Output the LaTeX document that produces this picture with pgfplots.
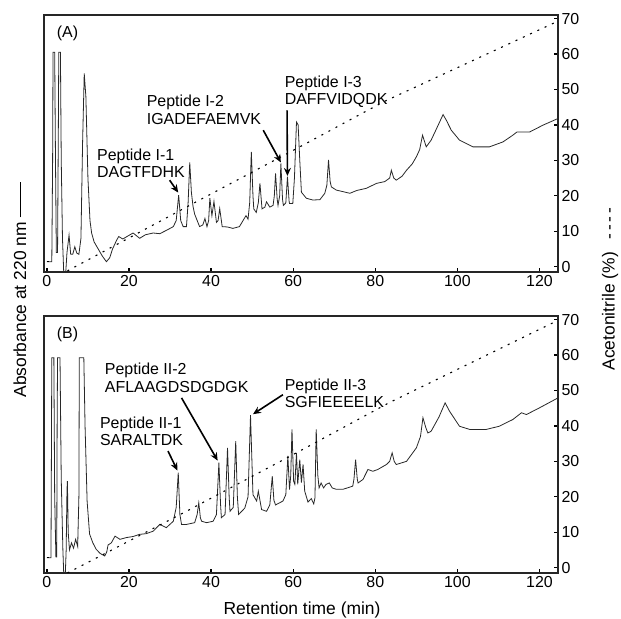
\documentclass[border=0pt]{standalone}
\usepackage{pgfplots}
\pgfplotsset{compat=1.18}
\usepackage{fontspec}
\setmainfont{Liberation Sans}
\usetikzlibrary{arrows.meta}

\definecolor{trace}{RGB}{40,40,40}

\pgfplotsset{
  chrom/.style={
    scale only axis, width=514bp, height=257bp,
    xmin=-0.7, xmax=124.5, ymin=-1.5, ymax=71,
    xtick={0,20,...,120}, ytick={0,10,...,70},
    xtick pos=bottom, ytick pos=right, yticklabel pos=right,
    tick align=inside, major tick length=4bp,
    axis line style={line width=1.6bp, black!85},
    tick style={line width=1.3bp, black},
    ticklabel style={font=\fontsize{16}{18}\selectfont},
    /pgf/number format/assume math mode=true,
  },
}
\tikzset{
  absline/.style={trace, line width=0.8bp},
  grad/.style={black, line width=1.1bp, dash pattern=on 2bp off 6bp},
  pep/.style={font=\fontsize{16}{17.5}\selectfont, align=left, anchor=north west, inner sep=0pt},
  arr/.style={-{Stealth[length=8bp,width=7bp]}, line width=1.6bp, black},
  lab/.style={font=\fontsize{17.5}{19}\selectfont},
}

\begin{document}
\begin{tikzpicture}[x=1bp,y=1bp]
\useasboundingbox (0,0) rectangle (621,619);

% panel A
\begin{axis}[chrom, at={(44bp,347bp)}, anchor=south west]
\addplot[absline] coordinates {
(0,1.4)(1.2,1.4)(1.4,30)(1.5,60.5)(1.9,60.5)(2.1,30)(2.3,4)(2.6,4)(2.8,40)(2.9,60.5)(3.3,60.5)(3.5,30)(3.8,8)(4.1,-1.5)(4.6,-1.5)(4.9,4)(5.4,8.9)(5.8,3.5)(6.3,3.5)(6.8,5.6)(7.3,3.8)(7.8,3.5)(8.3,8)(8.7,35)(9.1,54.5)(9.5,48)(10,25)(10.5,13)(10.9,9.5)(11.5,7)(12.5,5)(13.5,3)(14.5,1.4)(15.3,2.5)(16,5)(17,7.5)(17.5,8.5)(18.5,7.8)(19.5,8.5)(21,9.5)(22.6,8)(24,9)(25.9,9.5)(27.5,9.3)(29.2,10.3)(30.8,11.3)(31.5,13)(32.1,20.2)(32.6,13)(33.2,11.3)(34,11.3)(34.4,18)(34.8,29.4)(35.2,21)(35.6,17)(36,14.8)(37.2,11.3)(38,11.8)(38.5,13.6)(39,11.3)(39.4,13)(39.7,19.3)(40.2,14.4)(40.7,18.4)(41.3,12.5)(41.7,13)(42.1,16.4)(42.7,11.3)(44,11.2)(45.3,10.8)(46.9,11.3)(48.5,14.4)(49,13.4)(49.4,18)(49.8,32.4)(50.2,20)(50.4,16.3)(51,15.3)(51.5,18)(51.9,23.5)(52.4,16.3)(53.1,16.8)(53.5,18.3)(54.3,16.8)(55.1,17.3)(55.4,20)(55.7,26.3)(56.1,19)(56.3,17.3)(56.7,20)(57,29.1)(57.4,19)(57.6,17.3)(58.2,18)(58.6,25.4)(59,18.5)(59.1,17.8)(59.9,17.8)(60.3,25)(60.8,40.8)(61.2,40)(61.6,30)(62,21)(63.2,19.3)(64.8,18.8)(66.5,18.9)(67.7,20.7)(68.2,23)(68.6,30.1)(69,24)(69.3,22.5)(70.5,21.6)(72,21.2)(73.8,20.7)(75.5,21.5)(77.8,22.1)(80.3,23.5)(82.3,24)(83.5,25)(83.9,27.2)(84.5,25)(85.1,24.4)(86.5,25.5)(87.6,27.2)(89,29)(90,31)(90.8,33)(91.5,37.1)(92.4,33.8)(93.6,35.7)(95.3,39.9)(96.5,42.9)(97.3,41.3)(98.5,38.5)(100.5,35.7)(103.8,33.8)(107.8,33.8)(111.1,35.2)(113.5,37.1)(114.5,38)(115.6,38)(117.6,38)(120.8,39.9)(124.5,41.8)
};
\addplot[grad] coordinates {(0,1.4)(1.8,1.4)};
\addplot[grad] coordinates {(5,-1.2)(37.2,18.8)(62.4,34.3)(82,46.5)(124,69)};
\node[pep] at (axis cs:2.4,68.1) {(A)};
\node[pep] at (axis cs:12.2,33.4) {Peptide I-1\\DAGTFDHK};
\node[pep] at (axis cs:24.3,48.4) {Peptide I-2\\IGADEFAEMVK};
\node[pep] at (axis cs:57.9,54.0) {Peptide I-3\\DAFFVIDQDK};
\draw[arr] (axis cs:29.9,24.4) -- (axis cs:32.0,20.9);
\draw[arr] (axis cs:52.7,38.5) -- (axis cs:57.0,29.4);
\draw[arr] (axis cs:58.5,44.1) -- (axis cs:58.6,25.6);
\end{axis}

% panel B
\begin{axis}[chrom, at={(44bp,46bp)}, anchor=south west]
\addplot[absline] coordinates {
(0,2.8)(1,2.8)(1.1,30)(1.2,59.2)(1.7,59.2)(1.9,20)(2.2,3)(2.4,3)(2.5,40)(2.6,59.2)(3.2,59.2)(3.5,25)(3.9,5)(4.1,-1.5)(4.5,-1.5)(4.7,5)(4.9,22)(5,24.4)(5.2,10)(5.5,5)(6,7)(6.5,5.5)(7,8)(7.5,6)(7.8,20)(7.9,59.2)(9,59.2)(9.3,40)(9.8,18.8)(10.4,9.5)(11.2,7)(12,5.2)(13,4)(14.1,3.3)(14.6,4.5)(14.9,6.4)(15.7,7)(16.6,8.9)(17.8,8)(19.4,8.5)(21,8.8)(22.6,9.4)(24.2,9.6)(25.9,10.3)(27.5,12.2)(29.1,11.3)(30.8,13.1)(31.5,17)(32,26.8)(32.4,15)(32.8,12.2)(34,12.2)(36,12.7)(36.6,15)(37,18.3)(37.4,14)(37.7,13.1)(38.9,12.7)(40.5,13.1)(41.3,15)(41.9,29.6)(42.3,18)(42.5,14.1)(43.4,15)(44,33.8)(44.4,20)(44.6,15.9)(45.4,17)(46,35.7)(46.4,20)(46.7,15)(48.2,16.8)(49,20)(49.6,43)(50,28)(50.2,20.6)(51.1,18.8)(51.5,21.6)(52.3,16.4)(53.5,15.9)(54.3,17.7)(54.9,25.8)(55.3,19)(55.7,17.7)(57.5,18.8)(58.2,20.6)(58.7,31.5)(59.1,22)(59.4,26)(59.7,39)(60.1,24.4)(60.4,23.5)(60.8,32.4)(61.1,23.5)(61.6,30.5)(62,24)(62.4,29.1)(62.8,21.6)(63.6,18.5)(64.4,19.5)(65,18)(65.3,19.7)(65.6,39)(66,26)(66.3,22.5)(66.8,23.9)(67.4,22.5)(68,23.5)(68.8,23.9)(69.5,22.5)(70.5,22.1)(72.1,22.1)(74.5,23)(74.8,25)(75.2,30.5)(75.6,25)(75.8,23.9)(77,24.9)(78.2,27.7)(79.4,27.2)(80.6,27.7)(82.7,29.1)(83.5,30)(84.1,32.4)(84.6,30)(85.1,29.1)(87.6,30)(90,33.8)(91,37)(91.6,42.3)(92.3,39.5)(92.8,38)(93.6,38.5)(95.5,42.5)(97,46.5)(98.1,44.1)(100.5,39.9)(103,39)(107,39)(110.2,39.9)(113.5,41.8)(115.6,43.7)(116.8,43.2)(120,45.1)(124.5,47.9)
};
\addplot[grad] coordinates {(0,2.8)(1.6,2.8)};
\addplot[grad] coordinates {(5,-1.5)(34.8,16.4)(62.4,33.4)(83.3,46.5)(124,69.5)};
\node[pep] at (axis cs:2.4,68.1) {(B)};
\node[pep] at (axis cs:12.9,42.7) {Peptide II-1\\SARALTDK};
\node[pep] at (axis cs:14.1,57.7) {Peptide II-2\\AFLAAGDSDGDGK};
\node[pep] at (axis cs:57.9,53.4) {Peptide II-3\\SGFIEEEELK};
\draw[arr] (axis cs:29.5,32.9) -- (axis cs:31.8,27.4);
\draw[arr] (axis cs:32.8,47.9) -- (axis cs:41.6,30.2);
\draw[arr] (axis cs:57.5,48.8) -- (axis cs:50.2,43.3);
\end{axis}

\node[rotate=90, lab] at (20,329)
  {Absorbance at 220 nm \rule[0.3em]{2em}{0.9bp}};
\node[rotate=90, lab] at (610,330)
  {Acetonitrile (\%) \, -\,-\,-\,-};
\node[lab] at (302,9) {Retention time (min)};
\end{tikzpicture}
\end{document}
